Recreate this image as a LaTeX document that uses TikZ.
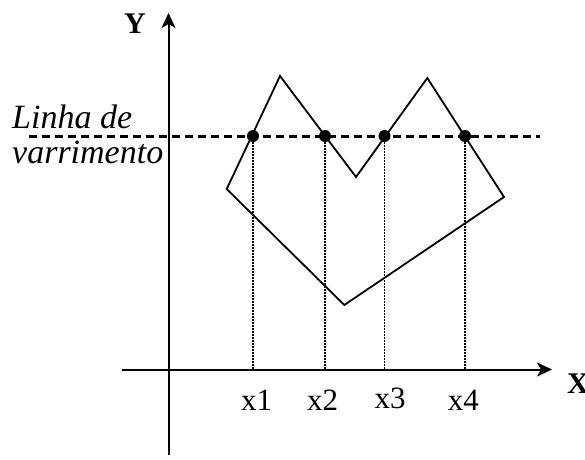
\documentclass[tikz,border=0pt]{standalone}
\usepackage{fontspec}
\setmainfont{Liberation Serif}
\usetikzlibrary{arrows.meta}
\begin{document}
\begin{tikzpicture}[x=1pt,y=1pt,
  axis/.style={line width=2pt,-{Stealth[length=15pt,width=14pt,inset=4pt]}},
  poly/.style={line width=1.8pt,line join=miter},
  scan/.style={line width=3pt,dash pattern=on 8pt off 5pt},
  proj/.style={line width=1.5pt,dash pattern=on 1.5pt off 1.5pt},
  pt/.style={circle,fill=black,inner sep=0pt,minimum size=12pt},
  lbl/.style={font=\fontsize{31}{36}\selectfont,inner sep=0pt,anchor=base},
  axlbl/.style={font=\fontsize{30}{36}\selectfont\bfseries,inner sep=0pt,anchor=base},
  itl/.style={font=\fontsize{34}{40}\selectfont\itshape,inner sep=0pt,anchor=base west}]
\useasboundingbox (0,0) rectangle (585,459);
% axes
\coordinate (ybot) at (168.5,4);
\coordinate (ytop) at (168.5,446);
\coordinate (xl) at (122,89.5);
\coordinate (xr) at (552,89.5);
\draw[axis] (ybot) -- (ytop);
\draw[axis] (xl) -- (xr);
\node[axlbl] (Ylab) at (135,425.7) {Y};
\node[axlbl,anchor=base west] (Xlab) at (567,65.7) {X};
% polygon
\coordinate (p1) at (226.7,270);
\coordinate (p2) at (280,383);
\coordinate (p3) at (356,282);
\coordinate (p4) at (427.3,381);
\coordinate (p5) at (504,262);
\coordinate (p6) at (344.3,154);
\draw[poly] (p1) -- (p2) -- (p3) -- (p4) -- (p5) -- (p6) -- cycle;
% scan line
\coordinate (sl) at (29,323);
\coordinate (sr) at (540,323);
\draw[scan] (sl) -- (sr);
% intersection points
\node[pt] (d1) at (253,323) {};
\node[pt] (d2) at (325,323) {};
\node[pt] (d3) at (384.5,323) {};
\node[pt] (d4) at (465,323) {};
\coordinate (b1) at (253,89.5);
\coordinate (b2) at (325,89.5);
\coordinate (b3) at (384.5,89.5);
\coordinate (b4) at (465,89.5);
\draw[proj] (d1.center) -- (b1);
\draw[proj] (d2.center) -- (b2);
\draw[proj] (d3.center) -- (b3);
\draw[proj] (d4.center) -- (b4);
% labels
\node[lbl] (l1) at (256.7,49) {x1};
\node[lbl] (l2) at (322.7,49) {x2};
\node[lbl] (l3) at (390,50.7) {x3};
\node[lbl] (l4) at (463.3,49) {x4};
\node[itl] (t1) at (12,330.7) {Linha de};
\node[itl] (t2) at (12,296) {varrimento};
\end{tikzpicture}
\end{document}
